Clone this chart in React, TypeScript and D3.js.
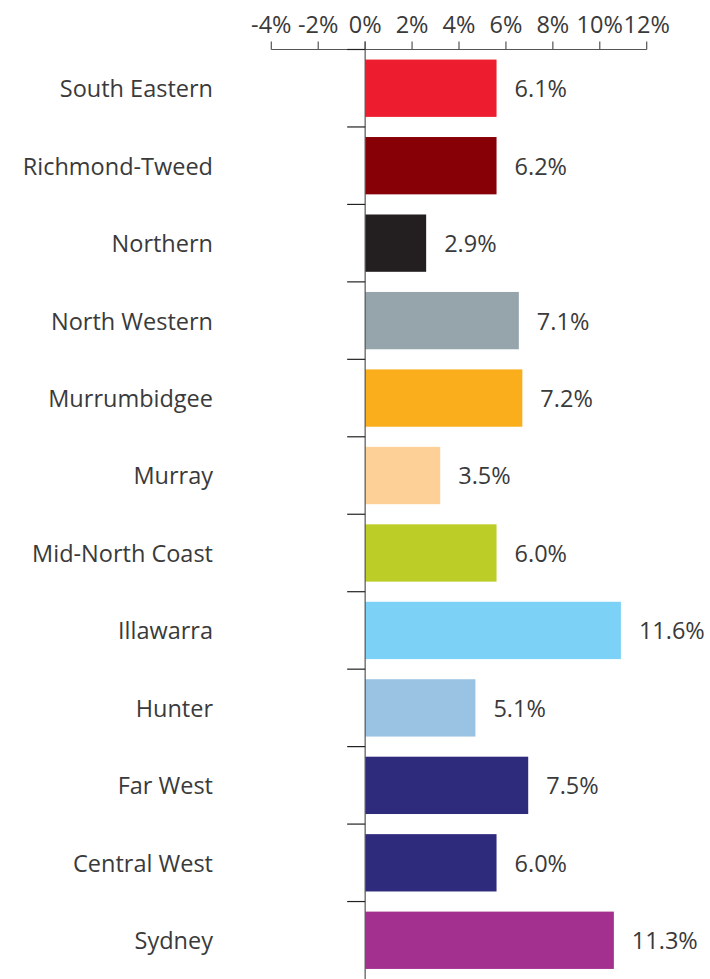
import React from "react";
import * as d3 from "d3";

const categories = [
  "South Eastern",
  "Richmond-Tweed",
  "Northern",
  "North Western",
  "Murrumbidgee",
  "Murray",
  "Mid-North Coast",
  "Illawarra",
  "Hunter",
  "Far West",
  "Central West",
  "Sydney",
];
// value printed next to each bar
const labelValues = [6.1, 6.2, 2.9, 7.1, 7.2, 3.5, 6.0, 11.6, 5.1, 7.5, 6.0, 11.3];
// bar length as read against the top axis
const barValues = [5.6, 5.6, 2.6, 6.55, 6.7, 3.2, 5.6, 10.9, 4.7, 6.95, 5.6, 10.6];
const colors = [
  "#ED1C2E",
  "#870005",
  "#231F20",
  "#96A4AB",
  "#FAAE1B",
  "#FCD097",
  "#BDCD27",
  "#7BD2F6",
  "#9AC3E3",
  "#2E2A7C",
  "#2E2A7C",
  "#A3308E",
];
const tickValues = [-4, -2, 0, 2, 4, 6, 8, 10, 12];
const tickLabels = ["-4%", "-2%", "0%", "2%", "4%", "6%", "8%", "10%", "12%"];

const W = 710;
const H = 979;
const FONT = "'Open Sans', 'Noto Sans', sans-serif";
const TEXT = "#3a3a3a";
const AXIS = "#555555";

export default function App() {
  const x = d3.scaleLinear().domain([-4, 12]).range([271.3, 646.7]);
  const axisY = 49.5;
  const y = d3
    .scaleBand<string>()
    .domain(categories)
    .range([axisY, H])
    .paddingInner(0.26)
    .paddingOuter(0.13);
  const x0 = x(0);
  const step = y.step();
  const boundaries = categories.map((c) => (y(c) as number) - (step - y.bandwidth()) / 2);

  return (
    <svg
      width={W}
      height={H}
      style={{ position: "absolute", left: 0, top: 0, display: "block" }}
      fontFamily={FONT}
      fontWeight={400}
    >
      <rect width={W} height={H} fill="#ffffff" />
      {/* bars */}
      {categories.map((c, i) => (
        <rect
          key={c}
          x={x(Math.min(0, barValues[i]))}
          y={y(c)}
          width={Math.abs(x(barValues[i]) - x0)}
          height={y.bandwidth()}
          fill={colors[i]}
        />
      ))}
      {/* top axis */}
      <line x1={x(-4)} x2={x(12)} y1={axisY} y2={axisY} stroke={AXIS} strokeWidth={1.2} />
      {tickValues.map((t, i) => (
        <g key={t}>
          <line x1={x(t)} x2={x(t)} y1={axisY} y2={axisY - 8} stroke={AXIS} strokeWidth={1.2} />
          <text
            x={x(t)}
            y={33}
            textAnchor="middle"
            fontSize={23.5}
            fill={TEXT}
          >
            {tickLabels[i]}
          </text>
        </g>
      ))}
      {/* vertical category axis */}
      <line x1={x0} x2={x0} y1={axisY - 8} y2={H} stroke={AXIS} strokeWidth={1.2} />
      {boundaries.map((b, i) => (
        <line key={i} x1={x0 - 18} x2={x0} y1={b} y2={b} stroke="#222" strokeWidth={1.2} />
      ))}
      {/* category labels */}
      {categories.map((c) => (
        <text
          key={c}
          x={213}
          y={(y(c) as number) + y.bandwidth() / 2}
          dy="0.38em"
          textAnchor="end"
          fontSize={23.5}
          fill={TEXT}
        >
          {c}
        </text>
      ))}
      {/* value labels */}
      {categories.map((c, i) => (
        <text
          key={c}
          x={x(barValues[i]) + 18}
          y={(y(c) as number) + y.bandwidth() / 2}
          dy="0.38em"
          textAnchor="start"
          fontSize={23.5}
          fill={TEXT}
        >
          {labelValues[i].toFixed(1) + "%"}
        </text>
      ))}
    </svg>
  );
}
